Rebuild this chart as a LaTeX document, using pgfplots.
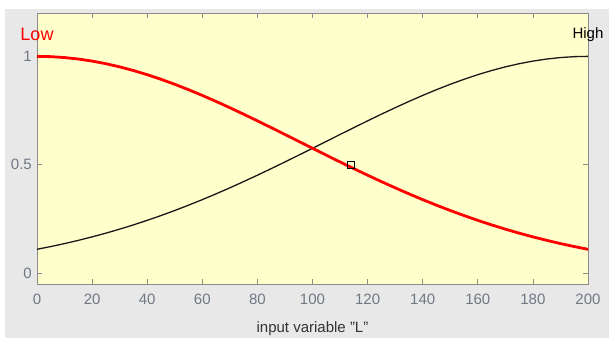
\documentclass[border=0pt]{standalone}
\usepackage{fontspec}
\setmainfont{Liberation Sans}
\usepackage{pgfplots}
\usepackage{pgfplotstable}
\pgfplotsset{compat=1.18}
\definecolor{figgray}{HTML}{E8E8E8}
\definecolor{axyellow}{HTML}{FFFFCC}
\definecolor{axgray}{HTML}{8C8C8C}
\definecolor{tickgray}{HTML}{707884}
\pgfplotstableread{
x low high
0 1.00000 0.11006
5 0.99862 0.12271
10 0.99450 0.13645
15 0.98766 0.15137
20 0.97817 0.16737
25 0.96611 0.18459
30 0.95156 0.20301
35 0.93465 0.22267
40 0.91551 0.24357
45 0.89429 0.26569
50 0.87117 0.28902
55 0.84629 0.31350
60 0.81987 0.33913
65 0.79209 0.36586
70 0.76313 0.39363
75 0.73323 0.42233
80 0.70254 0.45185
85 0.67128 0.48212
90 0.63965 0.51296
95 0.60780 0.54431
100 0.57596 0.57596
105 0.54431 0.60780
110 0.51296 0.63965
115 0.48212 0.67128
120 0.45185 0.70254
125 0.42233 0.73323
130 0.39363 0.76313
135 0.36586 0.79209
140 0.33913 0.81987
145 0.31350 0.84629
150 0.28902 0.87117
155 0.26569 0.89429
160 0.24357 0.91551
165 0.22267 0.93465
170 0.20301 0.95156
175 0.18459 0.96611
180 0.16737 0.97817
185 0.15137 0.98766
190 0.13645 0.99450
195 0.12271 0.99862
200 0.11006 1.00000
}\mfdata
\begin{document}
\begin{tikzpicture}[x=1pt,y=1pt]
\fill[white] (0,0) rectangle (609,338);
\fill[figgray] (5,0) rectangle (609,329);
\begin{axis}[
  at={(37pt,54pt)}, anchor=south west,
  scale only axis, width=551pt, height=271pt,
  xmin=0, xmax=200, ymin=-0.05, ymax=1.2,
  xtick={0,20,...,200}, ytick={0,0.5,1},
  clip=false,
  axis background/.style={fill=axyellow},
  axis line style={axgray, line width=0.8pt},
  tick align=inside, major tick length=5pt,
  tick style={axgray, line width=0.8pt},
  /pgf/number format/assume math mode=true,
  ticklabel style={font=\fontsize{15}{17}\selectfont, text=tickgray, inner sep=0pt},
  xticklabel style={anchor=north},
  yticklabel style={anchor=east},
  xticklabel shift=10pt, yticklabel shift=5pt,
  xlabel={input variable "L"},
  xlabel style={at={(axis description cs:0.5,0)}, anchor=north, inner sep=0pt, yshift=-37.5pt, font=\fontsize{15}{17}\selectfont, text=black!80},
]
\addplot[color=black!90, line width=1.3pt] table[x=x, y=high] {\mfdata};
\addplot[color=red, line width=2.8pt] table[x=x, y=low] {\mfdata};
\addplot[only marks, mark=square, mark size=3.5pt, mark options={black, line width=0.9pt}] coordinates {(113.8,0.5)};
\node[red, font=\fontsize{18}{20}\selectfont, inner sep=0pt] at (axis cs:0,1.10) {Low};
\node[black, font=\fontsize{15}{17}\selectfont, inner sep=0pt] at (axis cs:200,1.10) {High};
\end{axis}
\end{tikzpicture}
\end{document}
